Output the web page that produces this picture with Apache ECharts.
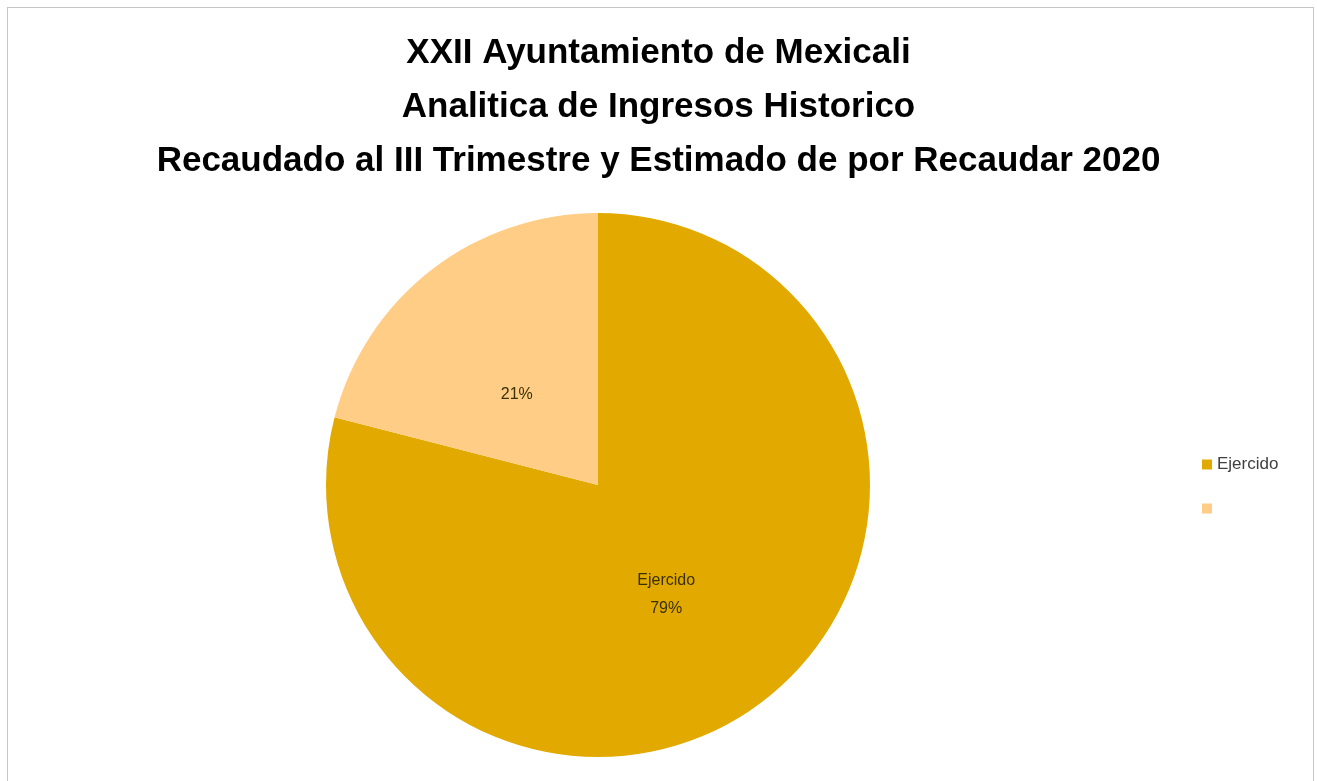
<!DOCTYPE html>
<html>
<head>
<meta charset="utf-8">
<script src="https://cdn.jsdelivr.net/npm/echarts@6/dist/echarts.min.js"></script>
<style>
html,body{margin:0;padding:0;background:#fff;}
#frame{position:absolute;left:7px;top:7px;width:1307px;height:790px;border:1px solid #c6c6c6;box-sizing:border-box;}
#chart{position:absolute;left:0;top:0;width:1317px;height:781px;}
</style>
</head>
<body>
<div id="frame"></div>
<div id="chart"></div>
<script>
const titleLines = ['XXII Ayuntamiento de Mexicali', 'Analitica de Ingresos Historico', 'Recaudado al III Trimestre y Estimado de por Recaudar 2020'];
const categories = ['Ejercido', ' '];
const values = [79, 21];
const colors = ['#E2AA00', '#FFCD86'];
const labelOffsets = [[-17, 0], [4, 19]];

const chart = echarts.init(document.getElementById('chart'));
chart.setOption({
  backgroundColor: 'transparent',
  animation: false,
  title: {
    text: titleLines.join('\n'),
    left: 'center',
    top: 21,
    textStyle: {
      fontFamily: 'Liberation Sans, sans-serif',
      fontWeight: 'bold',
      fontSize: 35,
      lineHeight: 54,
      color: '#000'
    }
  },
  legend: {
    orient: 'vertical',
    left: 1197,
    top: 451,
    itemWidth: 10,
    itemHeight: 10,
    itemGap: 27,
    icon: 'rect',
    data: categories,
    textStyle: {fontFamily: 'Liberation Sans, sans-serif', fontSize: 17, color: '#404040'}
  },
  series: [{
    type: 'pie',
    center: [598, 485],
    radius: [0, 272],
    startAngle: 90,
    clockwise: true,
    data: categories.map((c, i) => ({name: c, value: values[i], itemStyle: {color: colors[i]}, label: {offset: labelOffsets[i]}})),
    label: {
      position: 'inside',
      fontFamily: 'Liberation Sans, sans-serif',
      fontSize: 16,
      lineHeight: 28,
      color: '#3a3000',
      formatter: p => (p.name.trim() ? p.name + '\n' : '') + Math.round(p.percent) + '%'
    },
    labelLine: {show: false},
    emphasis: {disabled: true}
  }]
});
</script>
</body>
</html>
